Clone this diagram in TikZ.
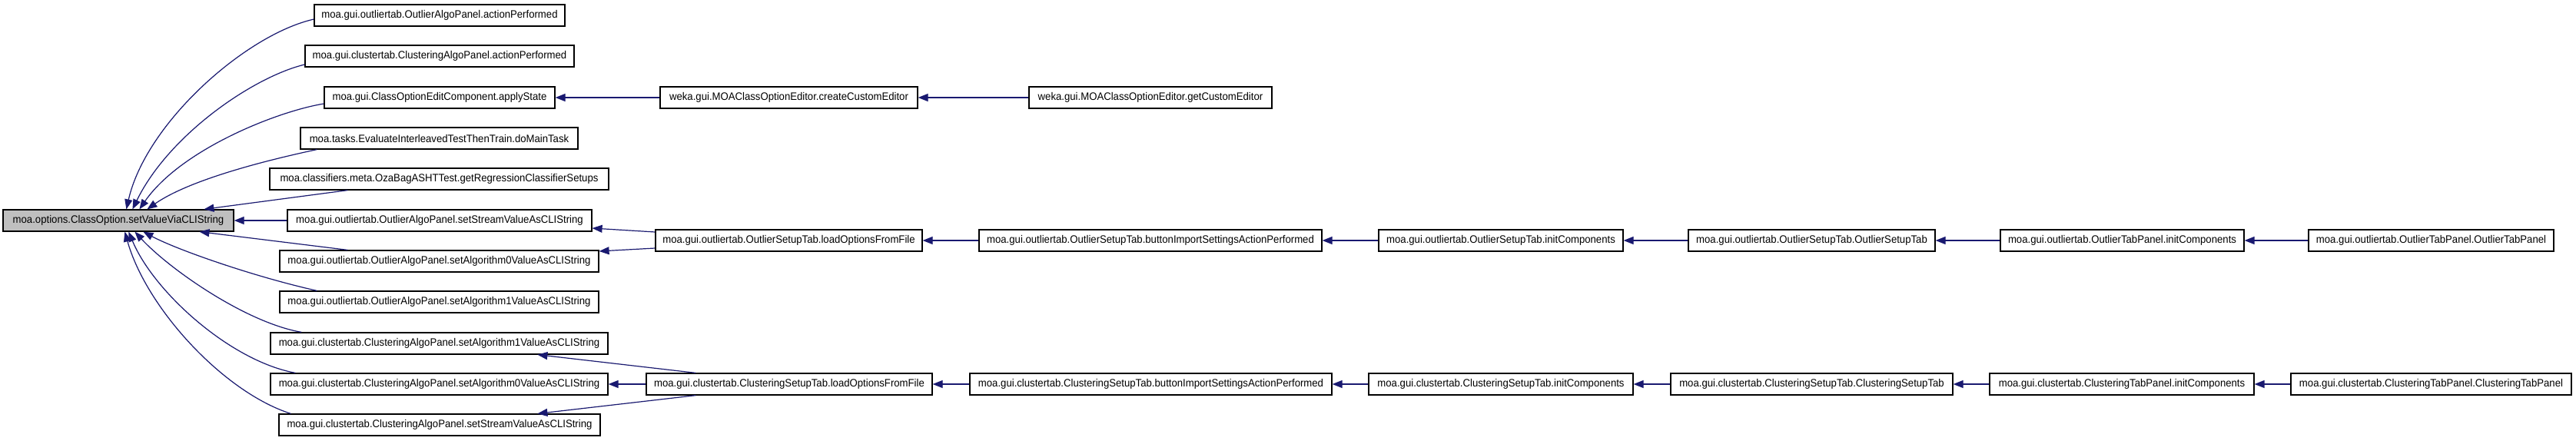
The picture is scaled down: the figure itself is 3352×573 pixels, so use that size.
\documentclass[tikz,border=0pt]{standalone}
\usepackage{fontspec}
\setmainfont{Liberation Sans}[FakeStretch=0.94]
\usetikzlibrary{arrows.meta,calc}
\definecolor{edgeblue}{HTML}{191970}
\definecolor{mainfill}{HTML}{BFBFBF}
\begin{document}
\begin{tikzpicture}[x=0.5pt,y=-0.5pt,
  box/.style={draw=black, line width=0.6pt, fill=white, inner sep=0pt,
    minimum height=14pt, font=\fontsize{7pt}{8.4pt}\selectfont},
  mainbox/.style={box, fill=mainfill},
  edge/.style={draw=edgeblue, line width=0.6pt, -{Triangle[length=6.5pt,width=5pt]}}]
\fill[white] (0,0) rectangle (3352,573);
\useasboundingbox (0,0) rectangle (3352,573);
% column 0
\node[mainbox, minimum width=300*0.5pt] (main) at (154,287) {moa.options.ClassOption.setValueViaCLIString};
% column 1
\node[box, minimum width=326*0.5pt] (r0) at (572,20) {moa.gui.outliertab.OutlierAlgoPanel.actionPerformed};
\node[box, minimum width=350*0.5pt] (r1) at (572,73) {moa.gui.clustertab.ClusteringAlgoPanel.actionPerformed};
\node[box, minimum width=300*0.5pt] (r2) at (572,127) {moa.gui.ClassOptionEditComponent.applyState};
\node[box, minimum width=361*0.5pt] (r3) at (571.5,180) {moa.tasks.EvaluateInterleavedTestThenTrain.doMainTask};
\node[box, minimum width=441*0.5pt] (r4) at (571.5,233) {moa.classifiers.meta.OzaBagASHTTest.getRegressionClassifierSetups};
\node[box, minimum width=396*0.5pt] (r5) at (572,287) {moa.gui.outliertab.OutlierAlgoPanel.setStreamValueAsCLIString};
\node[box, minimum width=415*0.5pt] (r6) at (571.5,340) {moa.gui.outliertab.OutlierAlgoPanel.setAlgorithm0ValueAsCLIString};
\node[box, minimum width=415*0.5pt] (r7) at (571.5,393) {moa.gui.outliertab.OutlierAlgoPanel.setAlgorithm1ValueAsCLIString};
\node[box, minimum width=439*0.5pt] (r8) at (571.5,447) {moa.gui.clustertab.ClusteringAlgoPanel.setAlgorithm1ValueAsCLIString};
\node[box, minimum width=439*0.5pt] (r9) at (571.5,500) {moa.gui.clustertab.ClusteringAlgoPanel.setAlgorithm0ValueAsCLIString};
\node[box, minimum width=418*0.5pt] (r10) at (572,553) {moa.gui.clustertab.ClusteringAlgoPanel.setStreamValueAsCLIString};
% column 2
\node[box, minimum width=335*0.5pt] (cce) at (1026.5,127) {weka.gui.MOAClassOptionEditor.createCustomEditor};
\node[box, minimum width=347*0.5pt] (olo) at (1026.5,313) {moa.gui.outliertab.OutlierSetupTab.loadOptionsFromFile};
\node[box, minimum width=372*0.5pt] (clo) at (1027,500) {moa.gui.clustertab.ClusteringSetupTab.loadOptionsFromFile};
% column 3
\node[box, minimum width=316*0.5pt] (gce) at (1497,127) {weka.gui.MOAClassOptionEditor.getCustomEditor};
\node[box, minimum width=446*0.5pt] (obi) at (1497,313) {moa.gui.outliertab.OutlierSetupTab.buttonImportSettingsActionPerformed};
\node[box, minimum width=471*0.5pt] (cbi) at (1497.5,500) {moa.gui.clustertab.ClusteringSetupTab.buttonImportSettingsActionPerformed};
% column 4
\node[box, minimum width=318*0.5pt] (oic) at (1953,313) {moa.gui.outliertab.OutlierSetupTab.initComponents};
\node[box, minimum width=344*0.5pt] (cic) at (1953,500) {moa.gui.clustertab.ClusteringSetupTab.initComponents};
% column 5
\node[box, minimum width=321*0.5pt] (ost) at (2357.5,313) {moa.gui.outliertab.OutlierSetupTab.OutlierSetupTab};
\node[box, minimum width=367*0.5pt] (cst) at (2357.5,500) {moa.gui.clustertab.ClusteringSetupTab.ClusteringSetupTab};
% column 6
\node[box, minimum width=317*0.5pt] (otic) at (2761.5,313) {moa.gui.outliertab.OutlierTabPanel.initComponents};
\node[box, minimum width=344*0.5pt] (ctic) at (2761,500) {moa.gui.clustertab.ClusteringTabPanel.initComponents};
% column 7
\node[box, minimum width=319*0.5pt] (otp) at (3163.5,313) {moa.gui.outliertab.OutlierTabPanel.OutlierTabPanel};
\node[box, minimum width=365*0.5pt] (ctp) at (3163.5,500) {moa.gui.clustertab.ClusteringTabPanel.ClusteringTabPanel};
% edges into main
\draw[edge] ($(r0.west)+(0,5)$) .. controls (320,45) and (190,160) .. ($(main.north west)+(161,0)$);
\draw[edge] ($(r1.west)+(0,11)$) .. controls (330,100) and (220,175) .. ($(main.north west)+(169,0)$);
\draw[edge] ($(r2.west)+(0,8)$) .. controls (360,145) and (235,195) .. ($(main.north west)+(178,0)$);
\draw[edge] ($(r3.south west)+(22,0)$) .. controls (340,210) and (245,235) .. ($(main.north west)+(188,0)$);
\draw[edge] ($(r4.south west)+(102,0)$) -- ($(main.north west)+(262,0)$);
\draw[edge] (r5.west) -- (main.east);
\draw[edge] ($(r6.north west)+(89,0)$) -- ($(main.south west)+(256,0)$);
\draw[edge] ($(r7.north west)+(49,0)$) .. controls (330,360) and (230,325) .. ($(main.south west)+(183,0)$);
\draw[edge] ($(r8.north west)+(41,0)$) .. controls (320,420) and (220,350) .. ($(main.south west)+(172,0)$);
\draw[edge] ($(r9.north west)+(33,0)$) .. controls (300,470) and (200,380) .. ($(main.south west)+(164,0)$);
\draw[edge] ($(r10.north west)+(16,0)$) .. controls (290,510) and (190,400) .. ($(main.south west)+(159,0)$);
% other edges
\draw[edge] (cce.west) -- (r2.east);
\draw[edge] (gce.west) -- (cce.east);
\draw[edge] ($(olo.west)+(0,-11)$) -- ($(r5.east)+(0,10)$);
\draw[edge] ($(olo.west)+(0,10)$) -- ($(r6.east)+(0,-13)$);
\draw[edge] ($(clo.north west)+(65,0)$) -- ($(r8.south west)+(348,0)$);
\draw[edge] (clo.west) -- (r9.east);
\draw[edge] ($(clo.south west)+(65,0)$) -- ($(r10.north west)+(337,0)$);
\draw[edge] (obi.west) -- (olo.east);
\draw[edge] (cbi.west) -- (clo.east);
\draw[edge] (oic.west) -- (obi.east);
\draw[edge] (cic.west) -- (cbi.east);
\draw[edge] (ost.west) -- (oic.east);
\draw[edge] (cst.west) -- (cic.east);
\draw[edge] (otic.west) -- (ost.east);
\draw[edge] (ctic.west) -- (cst.east);
\draw[edge] (otp.west) -- (otic.east);
\draw[edge] (ctp.west) -- (ctic.east);
\end{tikzpicture}
\end{document}
